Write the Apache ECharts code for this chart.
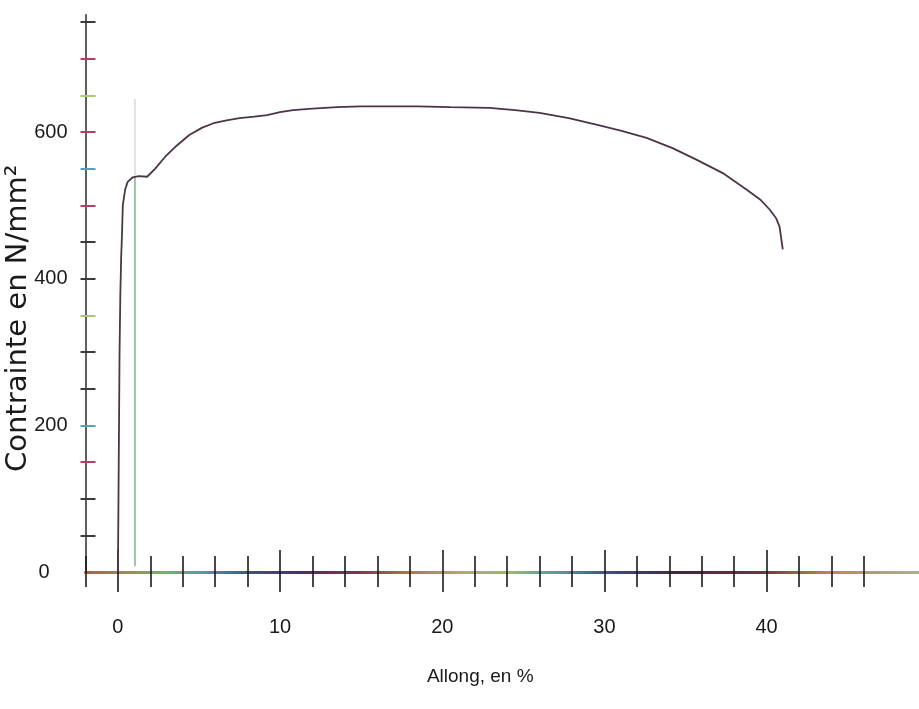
<!DOCTYPE html>
<html>
<head>
<meta charset="utf-8">
<script src="https://cdn.jsdelivr.net/npm/echarts@6/dist/echarts.min.js"></script>
<style>
html,body{margin:0;padding:0;background:#fff;}
#chart{width:919px;height:709px;}
</style>
</head>
<body>
<div id="chart"></div>
<script>
// ---- data ----
const strain = [0, 0.05, 0.1, 0.15, 0.2, 0.25, 0.3, 0.45, 0.6, 0.9, 1.3, 1.8, 2.3, 2.9, 3.6, 4.4, 5.2, 5.9, 6.7, 7.5, 8.4, 9.2, 10.0, 10.8, 12.0, 13.5, 15.0, 16.6, 18.5, 20.5, 22.9, 24.5, 26.0, 27.8, 29.5, 31.0, 32.6, 34.2, 35.7, 37.3, 38.8, 39.6, 40.2, 40.6, 40.8, 41.0];
const stress = [0, 150, 300, 380, 430, 460, 500, 522, 532, 538, 540, 539, 550, 566, 581, 596, 606, 612, 616, 619, 621, 623, 627, 630, 632, 634, 635, 635, 635, 634, 633, 630, 626, 619, 610, 602, 592, 578, 562, 544, 521, 508, 494, 482, 471, 440];
const markerX = [1.05, 1.05];
const markerLowY = [8, 540];
const markerHighY = [540, 645];
const xLabelValues = [0, 10, 20, 30, 40];
const xMajorTicks = [0, 10, 20, 30, 40];
const xMinorTicks = [-2, 2, 4, 6, 8, 12, 14, 16, 18, 22, 24, 26, 28, 32, 34, 36, 38, 42, 44, 46];
const yLabelValues = [0, 200, 400, 600];
const yTicksDark = [50, 100, 250, 300, 400, 450, 750];
const yTicksRed = [150, 500, 600, 700];
const yTicksGreen = [350, 650];
const yTicksCyan = [200, 550];
const xName = 'Allong, en %';
const yName = 'Contrainte en N/mm²';

// ---- chart ----
const labelFont = "'Liberation Sans', Arial, sans-serif";
const X_MIN = -2, X_MAX = 49.4, Y_MIN = 0, Y_MAX = 760;

const chart = echarts.init(document.getElementById('chart'), null, {renderer: 'canvas'});

const axisGrad = new echarts.graphic.LinearGradient(0, 0, 1, 0, [
  {offset: 0.00, color: '#a0604a'},
  {offset: 0.05, color: '#9a8a5c'},
  {offset: 0.10, color: '#78b070'},
  {offset: 0.14, color: '#4f9ea6'},
  {offset: 0.20, color: '#3f4f8a'},
  {offset: 0.26, color: '#4a3060'},
  {offset: 0.33, color: '#8c3050'},
  {offset: 0.39, color: '#a87a50'},
  {offset: 0.45, color: '#b8aa60'},
  {offset: 0.51, color: '#98b878'},
  {offset: 0.57, color: '#4f9a9c'},
  {offset: 0.63, color: '#3f4a80'},
  {offset: 0.71, color: '#402840'},
  {offset: 0.81, color: '#7a3040'},
  {offset: 0.89, color: '#b88a50'},
  {offset: 1.00, color: '#a8b878'}
]);

function tickXAxis(values, offset, len, color) {
  return {
    type: 'value', min: X_MIN, max: X_MAX, position: 'bottom', offset: offset,
    axisLine: {show: false, onZero: false},
    axisTick: {show: true, inside: true, length: len, customValues: values, lineStyle: {color: color, width: 1.6}},
    axisLabel: {show: false}, splitLine: {show: false}
  };
}
function tickYAxis(values, color) {
  return {
    type: 'value', min: Y_MIN, max: Y_MAX, position: 'left', offset: 5,
    axisLine: {show: false, onZero: false},
    axisTick: {show: true, inside: true, length: 15, customValues: values, lineStyle: {color: color, width: 2}},
    axisLabel: {show: false}, splitLine: {show: false}
  };
}

const option = {
  backgroundColor: '#ffffff',
  animation: false,
  grid: {left: 85.5, right: 0, top: 14.7, bottom: 137, containLabel: false, outerBoundsMode: 'none'},
  xAxis: [
    {
      type: 'value', min: X_MIN, max: X_MAX, position: 'bottom',
      name: xName, nameLocation: 'middle', nameGap: 95, nameMoveOverlap: false,
      nameTextStyle: {fontFamily: labelFont, fontSize: 19, color: '#1a1a1a', padding: [0, 44, 0, 0]},
      axisLine: {show: true, onZero: false, lineStyle: {color: axisGrad, width: 3}},
      axisTick: {show: false},
      axisLabel: {show: true, customValues: xLabelValues, margin: 45, fontFamily: labelFont, fontSize: 20, color: '#1a1a1a'},
      splitLine: {show: false}
    },
    tickXAxis(xMajorTicks, 20, 42, '#1a1a1a'),
    tickXAxis(xMinorTicks, 15, 31, '#1a1a1a')
  ],
  yAxis: [
    {
      type: 'value', min: Y_MIN, max: Y_MAX, position: 'left',
      name: yName, nameLocation: 'middle', nameGap: 53, nameRotate: 90, nameMoveOverlap: false,
      nameTextStyle: {fontFamily: "'DejaVu Sans', sans-serif", fontSize: 29, color: '#1a1a1a', padding: [0, 50, 0, 0]},
      axisLine: {show: true, onZero: false, lineStyle: {color: '#2a2a2a', width: 1.5}},
      axisTick: {show: false},
      axisLabel: {
        show: true, customValues: yLabelValues, margin: 18, fontFamily: labelFont, fontSize: 20, color: '#1a1a1a',
        formatter: function (v) { return v === 0 ? '{z|0}' : String(v); },
        rich: {z: {fontFamily: labelFont, fontSize: 20, color: '#1a1a1a', padding: [0, 18, 0, 0]}}
      },
      splitLine: {show: false}
    },
    tickYAxis(yTicksDark, '#3a3a3a'),
    tickYAxis(yTicksRed, '#b04060'),
    tickYAxis(yTicksGreen, '#a8c878'),
    tickYAxis(yTicksCyan, '#4aa8b8')
  ],
  series: [
    {
      type: 'line', xAxisIndex: 0, yAxisIndex: 0, showSymbol: false, silent: true,
      data: markerX.map((x, i) => [x, markerLowY[i]]),
      lineStyle: {color: '#78b888', width: 1.5}
    },
    {
      type: 'line', xAxisIndex: 0, yAxisIndex: 0, showSymbol: false, silent: true,
      data: markerX.map((x, i) => [x, markerHighY[i]]),
      lineStyle: {color: '#cfcfcf', width: 1.2}
    },
    {
      type: 'line', xAxisIndex: 0, yAxisIndex: 0, showSymbol: false, silent: true,
      data: strain.map((x, i) => [x, stress[i]]),
      lineStyle: {color: '#4b3548', width: 1.8}
    }
  ]
};
chart.setOption(option);
</script>
</body>
</html>
